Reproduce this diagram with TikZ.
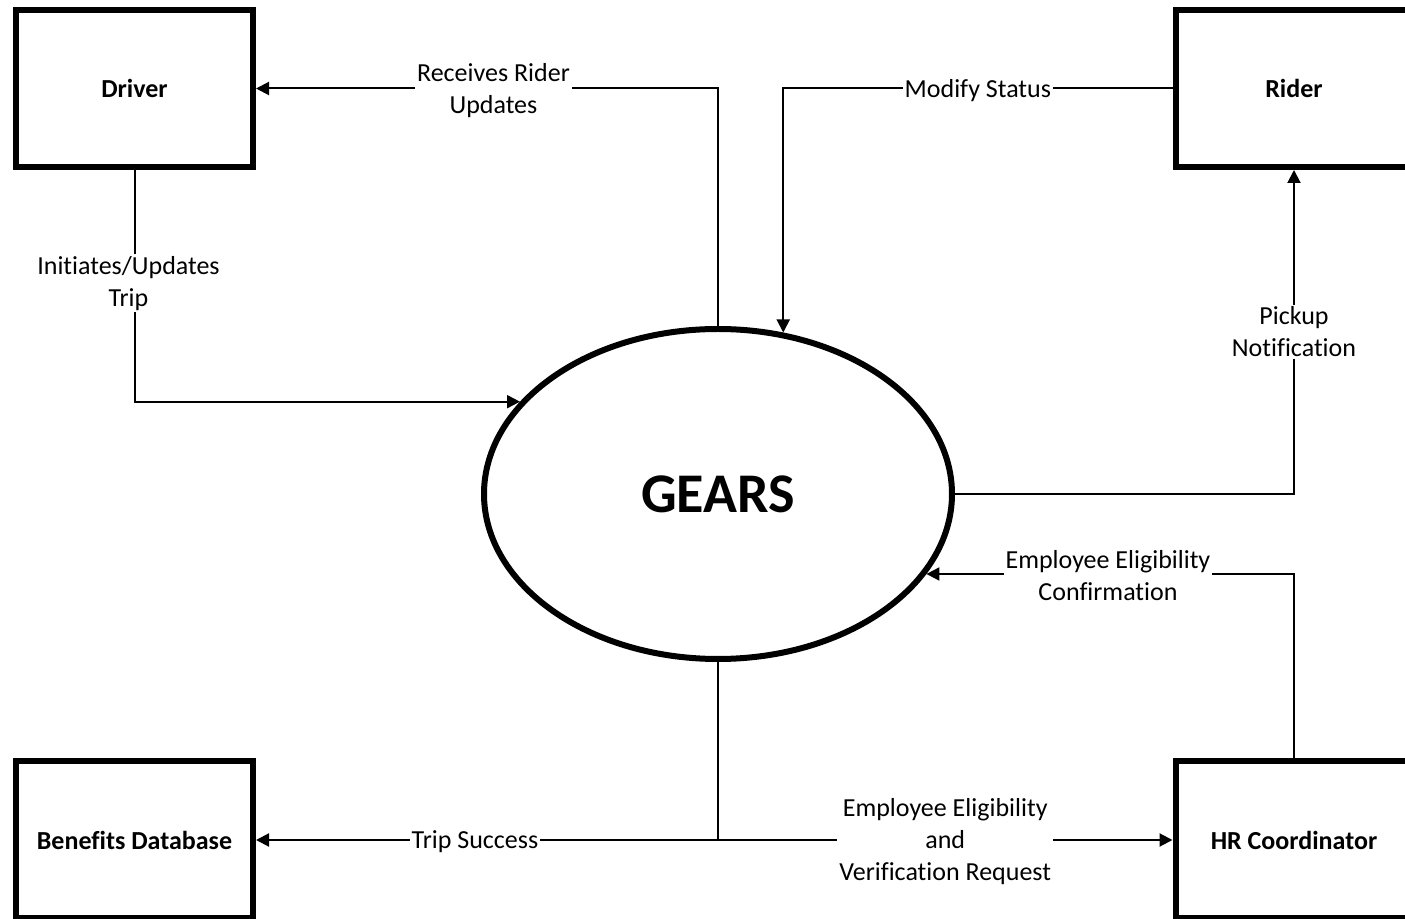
\documentclass[tikz,border=0pt]{standalone}
\usepackage{fontspec}
\setmainfont{Carlito}[Ligatures=NoCommon]
\usetikzlibrary{arrows.meta,shapes.geometric}
\begin{document}
\begin{tikzpicture}[x=0.5pt,y=-0.5pt,
  entity/.style={draw,line width=3pt,minimum width=118.5pt,minimum height=78.5pt,inner sep=0pt,font=\fontsize{13}{16}\selectfont\bfseries},
  proc/.style={draw,ellipse,line width=3pt,minimum width=234pt,minimum height=165pt,inner sep=0pt,font=\fontsize{28}{34}\selectfont\bfseries},
  flow/.style={line width=1pt,-{Triangle[length=6.5pt,width=6.5pt]}},
  lbl/.style={fill=white,inner sep=1pt,align=center,yshift=-1pt,font=\fontsize{13}{16}\selectfont}]
\useasboundingbox (0,0) rectangle (1405,919);
\clip (0,0) rectangle (1405,919);
\node[entity] (driver) at (134.5,88.5) {Driver};
\node[entity] (rider) at (1294,88.5) {Rider};
\node[entity] (bene) at (134.5,840) {Benefits Database};
\node[entity] (hr) at (1294,840) {HR Coordinator};
\node[proc] (g) at (718,494) {GEARS};
\draw[flow] (g.north) |- node[lbl,pos=0.743] (l1) {Receives Rider\\Updates} (driver.east);
\draw[flow] (rider.west) -| node[lbl,pos=0.25] (l2) {Modify Status} (g.68.1);
\draw[flow] (driver.south) |- node[lbl,pos=0.24,xshift=-3pt] (l3) {Initiates/Updates\\Trip} (g.155.3);
\draw[flow] (g.east) -| node[lbl,pos=0.753] (l4) {Pickup\\Notification} (rider.south);
\draw[flow] (hr.north) |- node[lbl,pos=0.753] (l5) {Employee Eligibility\\Confirmation} (g.-21.1);
\coordinate (j) at (g.south |- bene.east);
\draw[flow] (g.south) |- node[lbl,pos=0.763] (l6) {Trip Success} (bene.east);
\draw[flow] (j) -- node[lbl,pos=0.5] (l7) {Employee Eligibility\\and\\Verification Request} (hr.west);
\end{tikzpicture}
\end{document}
